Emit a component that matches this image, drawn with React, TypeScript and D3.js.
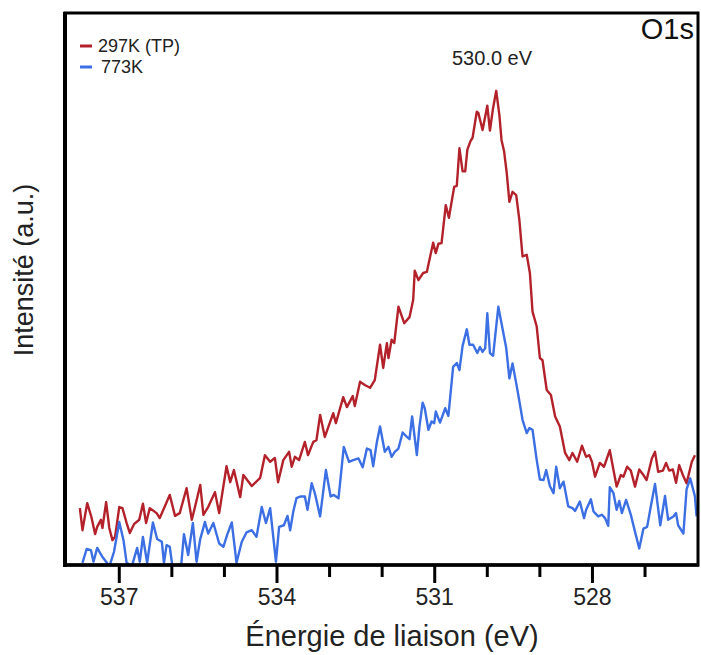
import React from "react";
import * as d3 from "d3";

const redEnergy = [537.75,537.70,537.61,537.53,537.46,537.42,537.35,537.32,537.25,537.19,
537.13,537.08,537.00,536.94,536.86,536.80,536.72,536.62,536.55,536.49,
536.42,536.29,536.23,536.13,536.04,535.94,535.85,535.72,535.62,535.56,
535.46,535.40,535.31,535.18,535.10,534.96,534.89,534.82,534.70,534.64,
534.48,534.32,534.23,534.13,534.04,533.98,533.88,533.77,533.72,533.66,
533.58,533.47,533.41,533.31,533.25,533.18,533.09,532.93,532.88,532.74,
532.67,532.56,532.52,532.42,532.33,532.23,532.14,532.04,531.98,531.91,
531.88,531.82,531.77,531.69,531.58,531.48,531.41,531.38,531.31,531.22,
531.15,531.03,530.98,530.93,530.87,530.79,530.73,530.63,530.58,530.53,
530.47,530.42,530.38,530.32,530.28,530.20,530.17,530.09,530.00,529.95,
529.89,529.83,529.77,529.73,529.68,529.63,529.58,529.52,529.45,529.39,
529.33,529.25,529.19,529.14,529.06,529.00,528.95,528.87,528.79,528.71,
528.62,528.52,528.44,528.38,528.29,528.20,528.12,528.06,528.01,527.95,
527.86,527.78,527.67,527.60,527.54,527.46,527.41,527.34,527.27,527.19,
527.11,527.03,526.97,526.87,526.81,526.75,526.66,526.60,526.54,526.47,
526.41,526.35,526.28,526.21,526.11,526.05];

const redIntensity = [10.3,6.3,11.2,8.7,5.6,6.9,8.2,6.7,11.4,6.7,
4.5,5.1,10.5,10.3,7.6,5.8,7.4,8.2,11.1,7.6,
10.3,9.4,8.5,10.7,12.7,8.9,9.4,13.9,8.2,10.5,
14.5,9.1,10.5,13.2,9.4,17.9,15.0,17.2,12.3,16.3,
14.3,15.8,19.9,18.7,19.4,15.0,19.0,20.5,17.8,19.6,
19.0,22.3,19.9,22.3,22.6,27.2,23.2,27.5,25.7,30.4,
28.6,30.6,28.8,33.2,32.6,32.1,33.5,39.9,35.7,40.2,
37.5,40.8,40.2,46.8,43.8,44.9,48.0,53.3,51.6,52.9,
53.1,58.4,56.5,58.2,58.3,65.2,62.9,68.5,68.7,75.5,
71.3,71.3,75.2,76.8,77.4,82.1,81.9,78.8,83.2,78.7,
82.8,85.9,81.5,77.0,74.9,71.0,65.8,67.6,67.0,62.5,
55.9,56.2,52.9,45.9,43.2,37.5,37.1,31.7,30.8,26.9,
25.1,20.3,19.0,20.3,18.7,21.6,19.6,19.9,18.7,16.0,
18.5,17.8,20.8,17.2,14.2,16.3,16.0,17.8,17.1,14.2,
17.3,16.3,15.4,19.3,20.5,16.9,17.1,18.5,17.1,17.3,
14.9,18.1,16.3,14.8,18.7,19.9];

const blueEnergy = [537.70,537.62,537.54,537.49,537.42,537.33,537.25,537.19,537.10,537.00,
536.92,536.86,536.76,536.66,536.61,536.55,536.47,536.36,536.28,536.19,
536.15,536.10,536.04,535.98,535.83,535.77,535.69,535.60,535.53,535.46,
535.37,535.31,535.21,535.10,535.02,534.95,534.86,534.77,534.67,534.58,
534.48,534.39,534.29,534.21,534.13,534.02,533.96,533.87,533.80,533.75,
533.69,533.63,533.56,533.47,533.42,533.34,533.28,533.18,533.07,532.98,
532.92,532.83,532.73,532.63,532.55,532.45,532.37,532.29,532.22,532.17,
532.10,532.04,531.95,531.88,531.82,531.76,531.69,531.61,531.53,531.48,
531.43,531.34,531.29,531.23,531.19,531.12,531.06,531.01,530.98,530.90,
530.80,530.74,530.65,530.58,530.53,530.47,530.39,530.34,530.27,530.19,
530.14,530.09,530.04,530.00,529.95,529.89,529.79,529.73,529.64,529.58,
529.52,529.45,529.41,529.33,529.25,529.20,529.14,529.06,529.00,528.93,
528.88,528.81,528.74,528.69,528.62,528.55,528.46,528.38,528.33,528.24,
528.16,528.12,528.03,527.98,527.89,527.82,527.76,527.70,527.67,527.60,
527.54,527.49,527.44,527.36,527.27,527.19,527.11,527.03,526.96,526.89,
526.81,526.71,526.62,526.56,526.46,526.41,526.37,526.27,526.21,526.14,
526.05,526.02];

const blueIntensity = [0.4,2.9,2.7,0.6,3.1,1.6,0.6,-0.3,2.4,7.8,
4.5,0.4,-0.2,3.1,0.6,5.1,0.4,7.7,4.7,4.2,
0.4,3.6,3.3,-0.9,-0.9,5.6,1.8,7.6,0.6,4.7,
7.8,5.7,7.6,3.9,3.3,5.4,7.7,0.4,4.2,5.9,
6.3,5.1,10.5,7.6,10.3,0.6,6.9,7.2,8.9,6.3,
9.7,12.1,12.4,12.4,10.0,14.8,13.0,8.8,17.2,12.4,
12.7,12.1,21.4,18.7,19.0,19.3,17.7,21.1,20.8,17.9,
22.3,25.1,20.5,21.4,19.6,20.5,21.1,24.0,23.2,22.8,
26.9,19.9,25.1,29.4,28.4,24.5,26.0,25.7,27.8,25.8,
28.4,27.0,35.9,36.6,35.3,39.7,42.7,39.9,39.9,38.4,
39.5,38.6,39.3,45.6,38.4,37.9,46.8,43.8,39.3,33.8,
36.5,32.9,30.8,26.3,23.9,24.8,24.5,19.0,15.5,15.4,
17.2,14.3,13.0,17.8,13.9,15.1,10.6,10.3,9.8,11.5,
8.5,10.0,11.9,9.7,8.8,9.1,8.5,7.1,14.1,13.0,
10.0,11.6,9.4,11.8,9.1,6.0,3.0,6.6,6.9,10.6,
14.7,7.2,12.5,8.2,8.8,9.4,7.2,5.7,13.7,15.7,
12.4,8.8];

const majorTicks = [537, 534, 531, 528];
const minorTicks = [536, 535, 533, 532, 530, 529, 527];
const seriesNames = ["297K (TP)", "773K"];
const seriesColors = ["#b3222b", "#3b6fe3"];
const peakLabel = "530.0 eV";
const panelLabel = "O1s";
const xTitle = "Énergie de liaison (eV)";
const yTitle = "Intensité (a.u.)";

const W = 701, H = 655;
const L = 65, R = 698, T = 13, B = 565;
const FONT = "'Liberation Sans', Arial, sans-serif";

export default function App() {
  const x = d3.scaleLinear().domain([538, 526]).range([66.7, 697.6]);
  const y = d3.scaleLinear().domain([0, 100]).range([B, T]);
  const line = d3.line<[number, number]>().x(d => x(d[0])).y(d => y(d[1]));
  const red = d3.zip(redEnergy, redIntensity) as [number, number][];
  const blue = d3.zip(blueEnergy, blueIntensity) as [number, number][];
  const series = [red, blue];

  return (
    <svg width={W} height={H} style={{ position: "absolute", left: 0, top: 0, background: "#fff" }}
      fontFamily={FONT}>
      <defs>
        <clipPath id="plotclip">
          <rect x={L} y={T} width={R - L} height={B - T} />
        </clipPath>
      </defs>
      <rect x={0} y={0} width={W} height={H} fill="#fff" />
      <g clipPath="url(#plotclip)">
        {series.map((s, i) => (
          <path key={i} d={line(s) || ""} fill="none" stroke={seriesColors[i]}
            strokeWidth={2.4} strokeLinejoin="round" />
        ))}
      </g>
      <rect x={L} y={T} width={R - L} height={B - T} fill="none" stroke="#000" strokeWidth={3} />
      <line x1={L} x2={L} y1={T - 1} y2={B + 2} stroke="#000" strokeWidth={4} />
      <line x1={L - 2} x2={R + 1} y1={B} y2={B} stroke="#000" strokeWidth={3.5} />
      {majorTicks.map(t => (
        <g key={"M" + t}>
          <line x1={x(t)} x2={x(t)} y1={B} y2={B + 18} stroke="#000" strokeWidth={3} />
          <text x={x(t)} y={605} textAnchor="middle" fontSize={23} fill="#222">{t}</text>
        </g>
      ))}
      {minorTicks.map(t => (
        <line key={"m" + t} x1={x(t)} x2={x(t)} y1={B} y2={B + 12} stroke="#000" strokeWidth={3} />
      ))}
      <text x={392} y={646} textAnchor="middle" fontSize={29} fill="#222">{xTitle}</text>
      <text transform="translate(33,270) rotate(-90)" textAnchor="middle" fontSize={27} fill="#222">{yTitle}</text>
      <text x={694} y={39} textAnchor="end" fontSize={29} fill="#111">{panelLabel}</text>
      <text x={492} y={65} textAnchor="middle" fontSize={20} fill="#222">{peakLabel}</text>
      {seriesNames.map((n, i) => (
        <g key={n}>
          <line x1={80} x2={92} y1={46 + i * 21} y2={46 + i * 21} stroke={seriesColors[i]} strokeWidth={3} />
          <text x={98 + i * 3} y={52 + i * 21} fontSize={18} fill="#222">{n}</text>
        </g>
      ))}
    </svg>
  );
}
